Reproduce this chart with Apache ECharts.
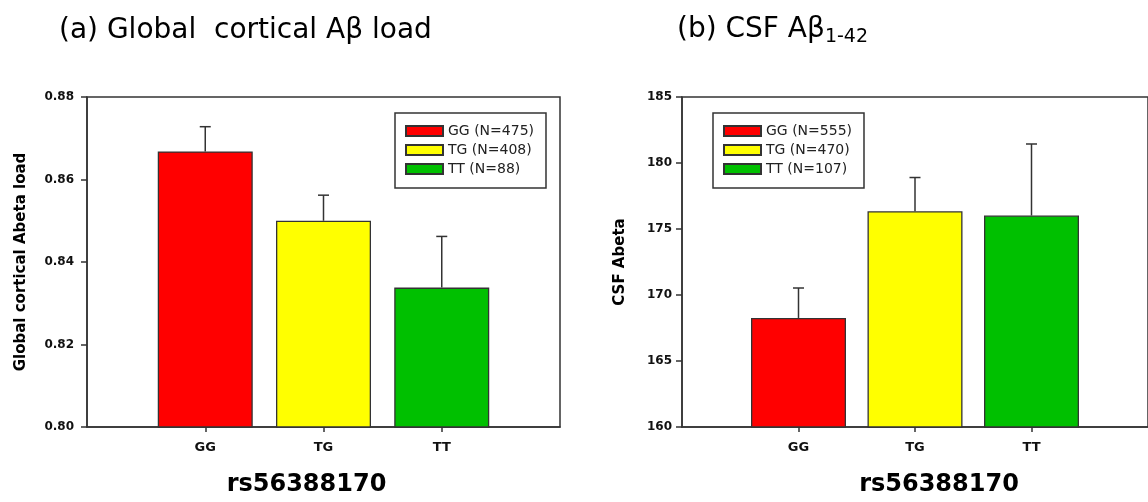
<!DOCTYPE html>
<html>
<head>
<meta charset="utf-8">
<script src="https://cdn.jsdelivr.net/npm/echarts@6/dist/echarts.min.js"></script>
<style>
  html, body { margin: 0; padding: 0; background: #fff; overflow: hidden; }
  #main { width: 1148px; height: 502px; }
</style>
</head>
<body>
<div id="main"></div>
<script>
// genotype groups, shared by both panels
const genotypes = ["GG", "TG", "TT"];
const colors = ["#ff0000", "#ffff00", "#00c000"];

// (a) global cortical Abeta load
const nA = [475, 408, 88];
const meanA = [0.8668, 0.85, 0.8338];
const seA = [0.006, 0.0062, 0.0124];
const ticksA = [0.8, 0.82, 0.84, 0.86, 0.88];

// (b) CSF Abeta 1-42
const nB = [555, 470, 107];
const meanB = [168.26, 176.34, 176.02];
const seB = [2.27, 2.56, 5.42];
const ticksB = [160, 165, 170, 175, 180, 185];

const dark = "#333";
const positions = [1, 2, 3];

function barSeries(gridIdx, n, mean) {
  return genotypes.map((g, i) => ({
    name: g + " (N=" + n[i] + ")",
    type: "bar",
    xAxisIndex: gridIdx,
    yAxisIndex: gridIdx,
    barWidth: 95,
    barGap: "-100%",
    itemStyle: { color: colors[i], borderColor: dark, borderWidth: 1.3 },
    data: [[positions[i], mean[i]]],
  }));
}

function errSeries(gridIdx, mean, se) {
  return {
    type: "custom",
    xAxisIndex: gridIdx,
    yAxisIndex: gridIdx,
    z: 5,
    data: mean.map((m, i) => [positions[i], m, m + se[i]]),
    renderItem(params, api) {
      const base = api.coord([api.value(0), api.value(1)]);
      const top = api.coord([api.value(0), api.value(2)]);
      const style = { stroke: dark, lineWidth: 1.5 };
      return {
        type: "group",
        children: [
          { type: "line", shape: { x1: base[0], y1: base[1], x2: top[0], y2: top[1] }, style },
          { type: "line", shape: { x1: top[0] - 5.5, y1: top[1], x2: top[0] + 5.5, y2: top[1] }, style },
        ],
      };
    },
  };
}

function xAxis(gridIdx, namePad) {
  return {
    type: "value",
    gridIndex: gridIdx,
    min: 0,
    max: 4,
    interval: 1,
    splitLine: { show: false },
    axisLine: { lineStyle: { color: dark, width: 1.5 } },
    axisTick: { customValues: positions, length: 5, lineStyle: { color: dark, width: 1.5 } },
    axisLabel: {
      customValues: positions,
      formatter: (v) => genotypes[v - 1] || "",
      margin: 14,
      fontSize: 13,
      fontWeight: "bold",
      color: "#111",
    },
    name: "rs56388170",
    nameLocation: "middle",
    nameGap: 46,
    nameTextStyle: { fontSize: 24, fontWeight: "bold", color: "#000", padding: namePad },
  };
}

function yAxis(gridIdx, ticks, name, gap, margin, digits) {
  return {
    type: "value",
    gridIndex: gridIdx,
    min: ticks[0],
    max: ticks[ticks.length - 1],
    interval: ticks[1] - ticks[0],
    splitLine: { show: false },
    axisLine: { show: true, lineStyle: { color: dark, width: 1.5 } },
    axisTick: { show: true, length: 6, lineStyle: { color: dark, width: 1.5 } },
    axisLabel: {
      margin: margin,
      fontSize: 12,
      fontWeight: "bold",
      color: "#111",
      formatter: (v) => v.toFixed(digits),
    },
    name: name,
    nameLocation: "middle",
    nameGap: gap,
    nameTextStyle: { fontSize: 15, fontWeight: "bold", color: "#000" },
  };
}

function legend(left, names) {
  return {
    left: left,
    top: 113,
    orient: "vertical",
    data: names,
    icon: "rect",
    itemWidth: 37,
    itemHeight: 10,
    itemGap: 5,
    padding: [11, 12, 12, 10],
    borderColor: dark,
    borderWidth: 1.5,
    selectedMode: false,
    textStyle: { fontSize: 14, lineHeight: 14, color: "#222" },
  };
}

const chart = echarts.init(document.getElementById("main"));
chart.setOption({
  animation: false,
  backgroundColor: "#fff",
  textStyle: { fontFamily: "DejaVu Sans" },
  title: [
    {
      text: "(a) Global  cortical Aβ load",
      left: 54,
      top: 12,
      textStyle: { fontSize: 28, fontWeight: "normal", color: "#000" },
    },
    {
      text: "(b) CSF Aβ{sub|1-42}",
      left: 672,
      top: 8,
      textStyle: {
        fontSize: 28,
        fontWeight: "normal",
        color: "#000",
        lineHeight: 34,
        rich: { sub: { fontSize: 19, lineHeight: 20, padding: [14, 0, 0, 0], color: "#000" } },
      },
    },
  ],
  grid: [
    { left: 87, right: 588, top: 97, bottom: 73, show: true, borderColor: dark, borderWidth: 1.5 },
    { left: 682, right: -8, top: 97, bottom: 73, show: true, borderColor: dark, borderWidth: 1.5 },
  ],
  legend: [
    legend(395, genotypes.map((g, i) => g + " (N=" + nA[i] + ")")),
    legend(713, genotypes.map((g, i) => g + " (N=" + nB[i] + ")")),
  ],
  xAxis: [xAxis(0, [0, 34, 0, 0]), xAxis(1, [0, 0, 0, 48])],
  yAxis: [
    yAxis(0, ticksA, "Global cortical Abeta load", 58, 13, 2),
    yAxis(1, ticksB, "CSF Abeta", 54, 10, 0),
  ],
  series: [
    ...barSeries(0, nA, meanA),
    errSeries(0, meanA, seA),
    ...barSeries(1, nB, meanB),
    errSeries(1, meanB, seB),
  ],
});
</script>
</body>
</html>
